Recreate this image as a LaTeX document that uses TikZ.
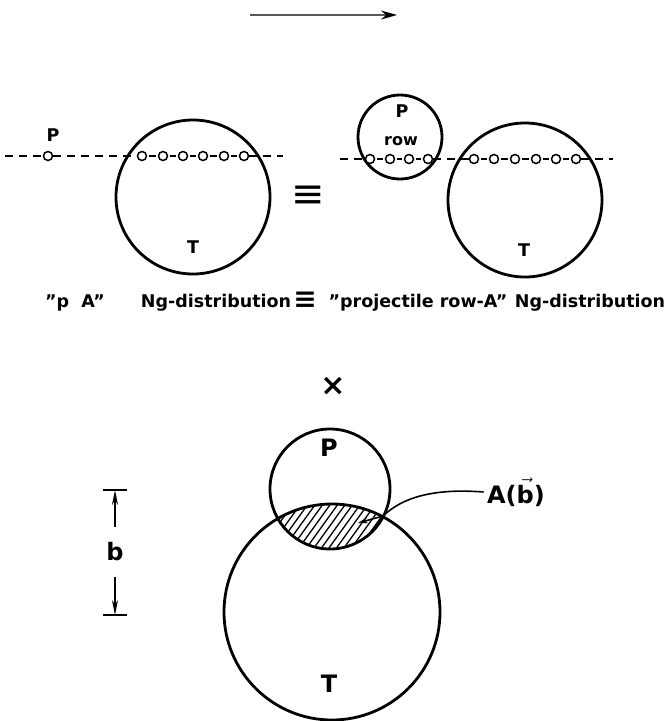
\documentclass[tikz,border=0pt]{standalone}
\usepackage{fontspec}
\setmainfont{DejaVu Sans}
\usetikzlibrary{arrows.meta}

\begin{document}
\begin{tikzpicture}[x=1pt, y=-1pt, font=\fontsize{17.5}{21}\selectfont\bfseries,
  rim/.style={line width=2.8pt},
  nucleon/.style={circle, draw, fill=white, line width=1.5pt, inner sep=0pt, minimum size=9pt},
  link/.style={line width=1.5pt, shorten <=2pt, shorten >=2pt},
  beamline/.style={dash pattern=on 8pt off 6pt, line width=1.8pt},
  hatch/.style={line width=1.3pt},
  dimtip/.style={-{Stealth[length=15pt,width=6pt]}, line width=1.6pt, shorten <=12pt},
  biglabel/.style={font=\fontsize{24}{26}\selectfont\bfseries}]

  \useasboundingbox (0,0) rectangle (667,721);

  % -------------------------------------------------------
  % beam direction
  % -------------------------------------------------------
  \coordinate (dirA) at (250,15);
  \coordinate (dirB) at (397,15);
  \draw[black!65, line width=1.3pt, -{Stealth[length=16pt,width=9pt,color=black]}] (dirA) -- (dirB);

  % ---- left: p A collision ----
  \draw[rim] (193,197) circle (77);
  \node (tLeft) at (193,247) {T};
  \node (pLeft) at (53,135) {P};
  \coordinate (beamL0) at (5,156);
  \coordinate (beamL1) at (283,156);
  \node[nucleon] (p0) at (48,156) {};
  \foreach \n/\x in {1/142,2/163,3/183,4/203,5/224,6/244}
    \node[nucleon] (a\n) at (\x,156) {};
  \draw[beamline] (beamL0) -- (p0) -- (a1);
  \draw[beamline] (a6) -- (beamL1);
  \foreach \n/\m in {1/2,2/3,3/4,4/5,5/6}
    \draw[link] (a\n) -- (a\m);

  % equivalence sign
  \node[font=\fontsize{40}{40}\selectfont] (eqTop) at (308,197) {≡};

  % ---- right: projectile row on A ----
  \draw[rim] (400,137) circle (42);
  \node (pRight) at (402,111) {P};
  \node[font=\fontsize{16}{18}\selectfont\bfseries] (rowLab) at (401,141) {row};
  \draw[rim] (525,200) circle (77);
  \node (tRight) at (524,250) {T};
  \coordinate (beamR0) at (340,159);
  \coordinate (beamR1) at (613,159);
  \foreach \n/\x in {1/370,2/390,3/409,4/428}
    \node[nucleon] (r\n) at (\x,159) {};
  \foreach \n/\x in {1/474,2/494,3/515,4/536,5/556,6/576}
    \node[nucleon] (s\n) at (\x,159) {};
  \draw[beamline] (beamR0) -- (r1);
  \draw[beamline] (r4) -- (s1);
  \draw[beamline] (s6) -- (beamR1);
  \foreach \n/\m in {1/2,2/3,3/4}
    \draw[link] (r\n) -- (r\m);
  \foreach \n/\m in {1/2,2/3,3/4,4/5,5/6}
    \draw[link] (s\n) -- (s\m);

  % caption
  \node (capPA) at (75,303) {''p\ \ A''};
  \node (ngLeft) at (216,303) {Ng-distribution};
  \node[font=\fontsize{28}{28}\selectfont\bfseries] (eqCap) at (305,300) {≡};
  \node (capRow) at (418,303) {''projectile row-A''};
  \node (ngRight) at (590,303) {Ng-distribution};

  % times
  \node[font=\fontsize{30}{30}\selectfont\bfseries] (times) at (333,386) {×};

  % -------------------------------------------------------
  % overlap A(b)
  % -------------------------------------------------------
  \coordinate (cP) at (330,489);
  \coordinate (cT) at (332,612);
  \begin{scope}
    \clip (cP) circle (60);
    \clip (cT) circle (108);
    \foreach \i in {0,...,22}
      \draw[hatch] (230+\i*7.5,550) -- ++(36,-50);
  \end{scope}
  \draw[rim] (cP) circle (60);
  \draw[rim] (cT) circle (108);
  \node[biglabel] (pBot) at (329,448) {P};
  \node[biglabel] (tBot) at (329,684) {T};

  \node[biglabel] (areaA) at (516,492) {A($\vec{\hbox{b}}$)};
  \coordinate (lensTip) at (358,523);
  \draw[line width=1.6pt, -{Stealth[length=10pt,width=6pt]}]
    (areaA.west) .. controls (432,488) and (402,498) .. (383,516) -- (lensTip);

  % impact parameter b
  \node[biglabel] (bLab) at (115,552) {b};
  \coordinate (bTop) at (115,490);
  \coordinate (bBot) at (115,615);
  \draw[dimtip] (bLab) -- (bTop);
  \draw[dimtip] (bLab) -- (bBot);
  \draw[line width=1.6pt] (bTop) ++(-12,0) -- ++(24,0);
  \draw[line width=1.6pt] (bBot) ++(-12,0) -- ++(24,0);

\end{tikzpicture}
\end{document}
